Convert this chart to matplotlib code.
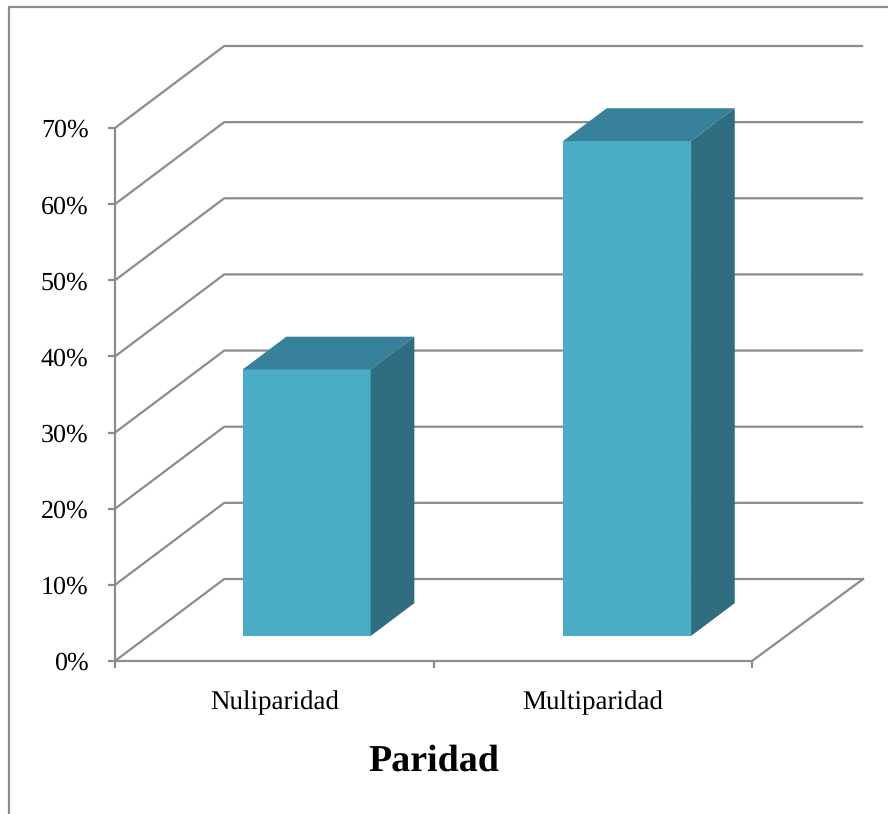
import matplotlib
matplotlib.use("Agg")
import matplotlib.pyplot as plt
from matplotlib.lines import Line2D
from matplotlib.patches import Polygon

# Chart values
categories = ["Nuliparidad", "Multiparidad"]
values = [35, 65]
y_ticks = [0, 10, 20, 30, 40, 50, 60, 70]
axis_title = "Paridad"

# Colours and oblique projection of the 3D box
GRID = "#8c8c8c"
FRONT = "#4bacc6"
TOP = "#37819a"
SIDE = "#316d80"
TEXT = "#000000"
DEPTH_X = 0.343      # floor depth, in category units
DEPTH_Y = 10.77      # floor depth, in percent units
BACK_RIGHT = 2.349   # right end of the back wall, in category units
BAR_CENTRES = [0.497, 1.503]
BAR_WIDTH = 0.402
BAR_NEAR = 0.305     # fraction of the floor depth where a box starts
BAR_FAR = 0.705      # fraction of the floor depth where a box ends

W, H = 888, 814
plt.rcParams["font.family"] = ["Liberation Serif", "DejaVu Serif"]
plt.rcParams["text.hinting"] = "none"
plt.rcParams["text.hinting_factor"] = 1
fig = plt.figure(figsize=(W / 100, H / 100), dpi=100, facecolor="white")
ax = fig.add_axes([115 / W, 1 - 661 / H, (752 - 115) / W, (661 - 128) / H])
ax.set_xlim(0, 2)
ax.set_ylim(0, 70)
ax.patch.set_visible(False)

for side in ("top", "right"):
    ax.spines[side].set_visible(False)
for side in ("left", "bottom"):
    ax.spines[side].set_color(GRID)
    ax.spines[side].set_linewidth(1.6)

# Value axis, and category ticks with labels centred between them
ax.set_yticks(y_ticks)
ax.set_yticklabels([f"{v}%" for v in y_ticks], fontsize=18.5, color=TEXT)
ax.tick_params(axis="y", length=5, width=1.6, color=GRID, pad=14)
ax.set_xticks([0, 1, 2])
ax.set_xticklabels([])
ax.set_xticks([0.5, 1.5], minor=True)
ax.set_xticklabels(categories, minor=True, fontsize=19.5, color=TEXT)
ax.tick_params(axis="x", which="major", length=5, width=1.6, color=GRID)
ax.tick_params(axis="x", which="minor", length=0, pad=21.5)

# Side wall and back wall gridlines
for v in y_ticks:
    ax.plot([0, DEPTH_X, BACK_RIGHT], [v, v + DEPTH_Y, v + DEPTH_Y],
            color=GRID, lw=1.6, clip_on=False, zorder=1,
            solid_joinstyle="miter", solid_capstyle="butt")
# Right edge of the floor
ax.plot([2, BACK_RIGHT], [0, DEPTH_Y], color=GRID, lw=1.6,
        clip_on=False, zorder=1)

# Boxes: front, top and side faces
for centre, value in zip(BAR_CENTRES, values):
    left = centre - BAR_WIDTH / 2
    right = left + BAR_WIDTH
    xn, yn = BAR_NEAR * DEPTH_X, BAR_NEAR * DEPTH_Y
    xf, yf = BAR_FAR * DEPTH_X, BAR_FAR * DEPTH_Y
    faces = [
        (FRONT, [(left + xn, yn), (right + xn, yn),
                 (right + xn, value + yn), (left + xn, value + yn)]),
        (TOP, [(left + xn, value + yn), (right + xn, value + yn),
               (right + xf, value + yf), (left + xf, value + yf)]),
        (SIDE, [(right + xn, yn), (right + xf, yf),
                (right + xf, value + yf), (right + xn, value + yn)]),
    ]
    for colour, pts in faces:
        ax.add_patch(Polygon(pts, closed=True, facecolor=colour,
                             edgecolor="none", clip_on=False, zorder=3))

# Category axis title
fig.text(434 / W, 1 - 761 / H, axis_title, fontsize=27, fontweight="bold",
         ha="center", va="center", color=TEXT)

# Page frame along the top and left
fig.add_artist(Line2D([9 / W, 9 / W, 1], [0, 1 - 7 / H, 1 - 7 / H],
                      color=GRID, lw=1.6, solid_joinstyle="miter"))

fig.savefig("out.png", dpi=100)
